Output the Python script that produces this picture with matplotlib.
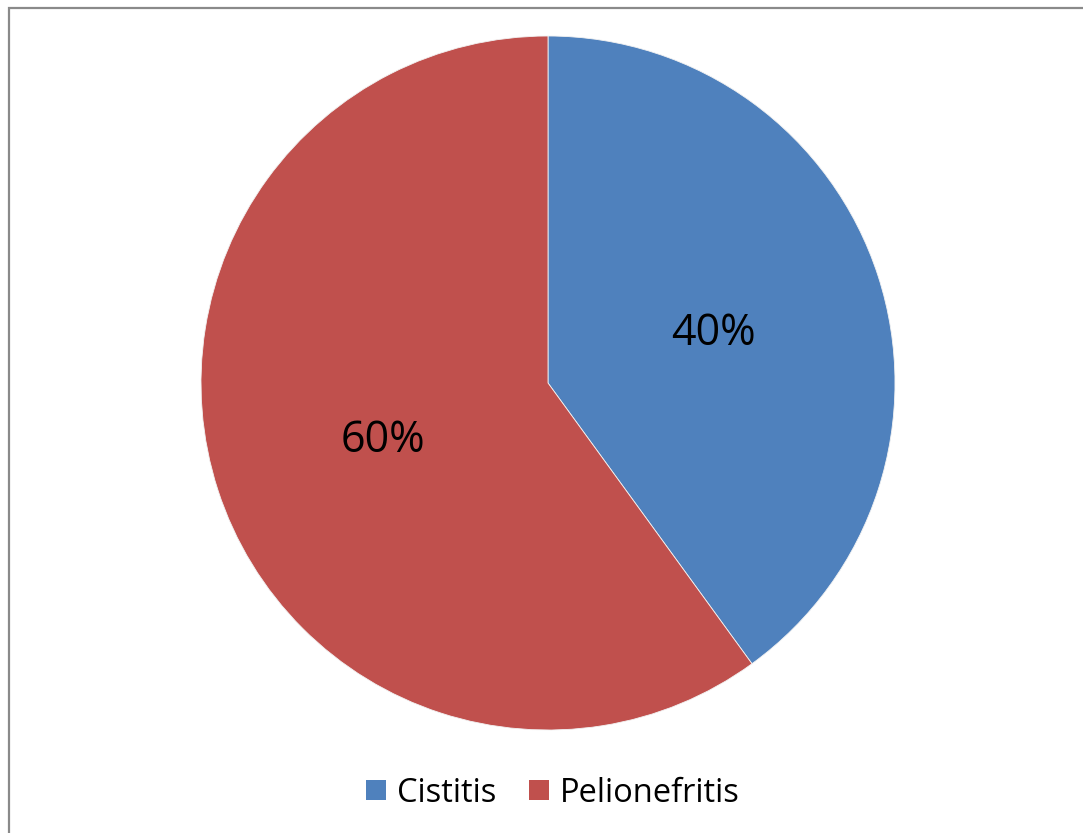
import matplotlib
matplotlib.use("Agg")
import matplotlib.pyplot as plt
import matplotlib.transforms as mtransforms
from matplotlib.patches import Patch, Rectangle

categories = ["Cistitis", "Pelionefritis"]
shares = [40, 60]
colors = ["#4F81BD", "#C0504D"]

plt.rcParams["font.family"] = ["Open Sans", "DejaVu Sans"]

W, H = 1083, 833
fig = plt.figure(figsize=(W / 100, H / 100), dpi=100)
fig.patch.set_facecolor("white")

# chart frame, open at the right and bottom edges
fig.patches.append(Rectangle((8.5 / W, -0.05), 1.2, 1 - 7.5 / H + 0.05,
                             transform=fig.transFigure, fill=False,
                             edgecolor="#8a8a8a", linewidth=1.6))

cx, cy, r = 548, 383, 347
ax = fig.add_axes([(cx - r) / W, (H - cy - r) / H, 2 * r / W, 2 * r / H])
wedges, texts, autotexts = ax.pie(
    shares, colors=colors, startangle=90, counterclock=False,
    autopct="%d%%", pctdistance=0.5, radius=1,
    textprops={"fontsize": 31, "color": "black"},
    wedgeprops={"linewidth": 0.6, "edgecolor": "#f2f2f2"},
)
for t in autotexts:
    t.set_transform(mtransforms.offset_copy(t.get_transform(), fig=fig, x=0, y=-4, units="dots"))
ax.set_xlim(-1, 1)
ax.set_ylim(-1, 1)
ax.set_aspect("equal")
ax.axis("off")

handles = [Patch(facecolor=c, edgecolor="none") for c in colors]
fig.legend(handles, categories, loc="center", bbox_to_anchor=(553 / W, 1 - 793 / H),
           ncol=2, frameon=False, fontsize=23.5, handlelength=0.6, handleheight=0.6,
           handletextpad=0.35, columnspacing=1.0)

fig.savefig("out.png", dpi=100, facecolor="white")
